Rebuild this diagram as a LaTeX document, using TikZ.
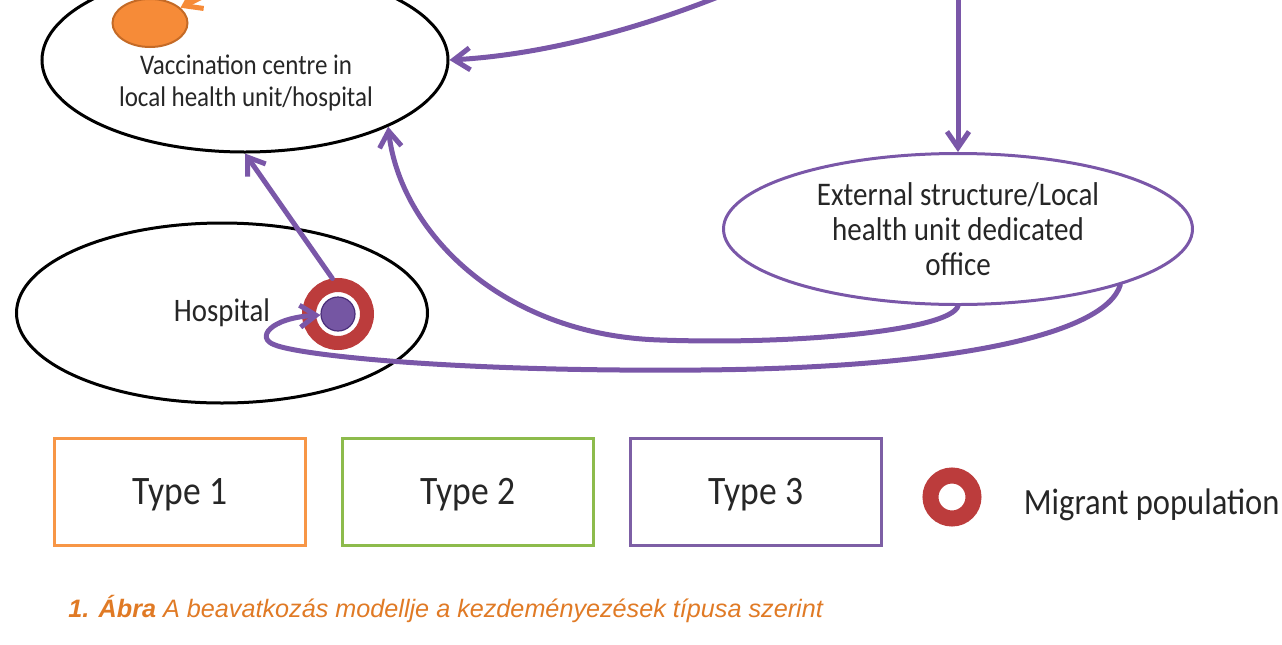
\documentclass[tikz,border=0pt]{standalone}
\usepackage{fontspec}
\setmainfont{Carlito}[FakeStretch=0.88]
\newfontfamily\capfont{Liberation Sans}
\usetikzlibrary{shapes.geometric, arrows.meta, positioning}
\definecolor{vpurple}{HTML}{7A57A8}
\definecolor{vdot}{HTML}{7556A3}
\definecolor{vdotline}{HTML}{4A2E7A}
\definecolor{vorange}{HTML}{F68B38}
\definecolor{vorangeline}{HTML}{C46A26}
\definecolor{vred}{HTML}{BC3C3C}
\definecolor{boxorange}{HTML}{F79646}
\definecolor{boxgreen}{HTML}{8DBB4C}
\definecolor{boxpurple}{HTML}{7D5FA5}
\definecolor{capcol}{HTML}{E07A25}
\definecolor{inkgray}{HTML}{262626}

\begin{document}
\begin{tikzpicture}[x=0.5pt, y=-0.5pt, text=inkgray,
  place/.style={ellipse, draw, line width=1.5pt, inner sep=0pt, align=center},
  link/.style={draw=vpurple, line width=2.5pt, line cap=round, -{Straight Barb[length=8pt, width=11pt]}},
  typebox/.style={draw, line width=1.5pt, minimum width=125.5pt, minimum height=53.5pt, text depth=1pt, font=\fontsize{20.2}{24}\selectfont},
  target/.style={circle, draw=vred, inner sep=0pt}]
\useasboundingbox (0,0) rectangle (1282,644);

\node[place, minimum width=203pt, minimum height=92pt] (vacc) at (245,60) {};
\node[align=center, font=\fontsize{14.2}{16}\selectfont] (vacctext) at (246,83) {Vaccination centre in\\local health unit/hospital};
\node[place, line width=1pt, draw=vorangeline, fill=vorange, minimum width=37.5pt, minimum height=24pt] (jab) at (150,23) {};
\node[place, draw=vpurple, minimum width=234.5pt, minimum height=75.5pt, font=\fontsize{16.5}{17.5}\selectfont] (ext) at (958,229) {External structure/Local\\health unit dedicated\\office};
\node[place, minimum width=205.5pt, minimum height=90pt, font=\fontsize{16.4}{19}\selectfont] (hosp) at (222,313) {Hospital};
\node[target, line width=7pt, minimum size=29pt] (ring) at (338,314) {};
\node[circle, draw=vdotline, line width=0.6pt, fill=vdot, minimum size=17pt, inner sep=0pt] (dot) at (338,314) {};

\coordinate (topin) at (740,-12);
\coordinate (topdown) at (958,-12);
\coordinate (jabin) at (228,-16);

\draw[link] (topin) .. controls (640,30) and (540,55) .. (vacc.east);
\draw[link] (topdown) -- (ext.north);
\draw[link] (ring.99) -- (vacc.south);
\draw[link] (ext.south) .. controls (950,330) and (800,345) .. (660,340) .. controls (500,335) and (400,230) .. (vacc.-25);
\draw[link] (ext.-19) .. controls (1105,335) and (950,368) .. (700,370) .. controls (450,372) and (300,355) .. (275,345) .. controls (255,338) and (270,318) .. (dot);
\draw[link, draw=vorange] (jabin) -- (jab);

\node[typebox, draw=boxorange] (type1) at (180,492) {Type 1};
\node[typebox, draw=boxgreen, right=17pt of type1] (type2) {Type 2};
\node[typebox, draw=boxpurple, right=17pt of type2] (type3) {Type 3};
\node[target, line width=8pt, minimum size=21.5pt] (legring) at (952,497) {};
\node[right=21pt of legring, inner sep=0pt, yshift=-4pt, font=\fontsize{18.5}{22}\selectfont] (migrant) {Migrant population};

\node[anchor=base west, inner sep=0pt, text=capcol, font=\capfont\itshape\fontsize{12.6}{15}\selectfont] (caption) at (68,617) {\textbf{1. Ábra} A beavatkozás modellje a kezdeményezések típusa szerint};
\end{tikzpicture}
\end{document}
